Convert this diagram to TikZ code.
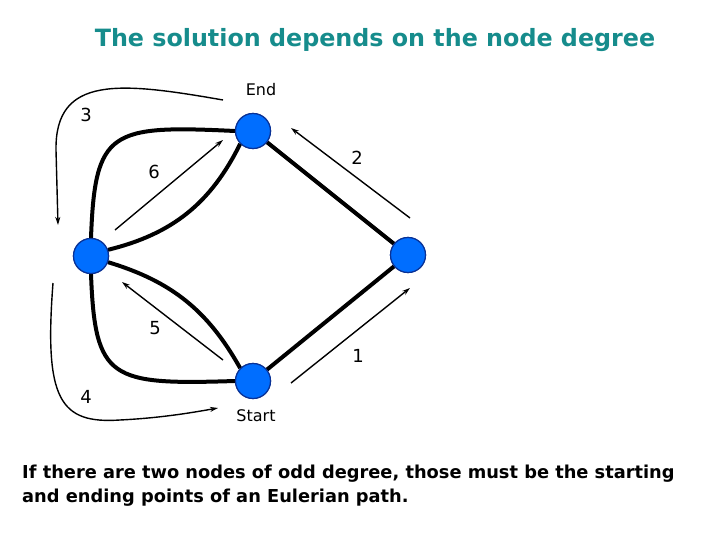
\documentclass[tikz,border=0pt]{standalone}
\usepackage{fontspec}
\setmainfont{DejaVu Sans}
\usetikzlibrary{arrows.meta}
\definecolor{titleteal}{RGB}{22,140,140}
\definecolor{nodeblue}{RGB}{0,110,255}
\definecolor{nodeborder}{RGB}{10,50,150}
\begin{document}
\begin{tikzpicture}[x=1pt,y=-1pt,
  vert/.style={circle,fill=nodeblue,draw=nodeborder,line width=1.2pt,minimum size=35pt,inner sep=0pt},
  edge/.style={line width=4pt,black},
  walk/.style={line width=1.4pt,black,-{Stealth[length=8pt,width=5pt]}},
  num/.style={font=\fontsize{18}{21}\selectfont},
  lab/.style={font=\fontsize{16}{19}\selectfont}]
\useasboundingbox (0,0) rectangle (720,540);
\node[font=\fontsize{23.8}{28}\selectfont\bfseries,text=titleteal] (title) at (375,40) {The solution depends on the node degree};
\node[vert] (E) at (253,131) {};
\node[vert] (L) at (91,256) {};
\node[vert] (R) at (408,255) {};
\node[vert] (S) at (253,381) {};
% edges
\draw[edge] (E) -- (R);
\draw[edge] (S) -- (R);
\draw[edge] (L.north) .. controls (95,130) and (110,125) .. (E.west);
\draw[edge] (L.20) to[bend right=25] (E.225);
\draw[edge] (L.-20) to[bend left=22] (S.135);
\draw[edge] (L.south) .. controls (95,380) and (110,385) .. (S.west);
% redraw nodes on top
\node[vert] at (E) {};
\node[vert] at (L) {};
\node[vert] at (R) {};
\node[vert] at (S) {};
% walk arrows
\coordinate (a3s) at (223,100); \coordinate (a3e) at (58,225);
\coordinate (a6s) at (115,230); \coordinate (a6e) at (223,140);
\coordinate (a2s) at (410,218); \coordinate (a2e) at (291,128);
\coordinate (a1s) at (291,383); \coordinate (a1e) at (410,288);
\coordinate (a5s) at (223,360); \coordinate (a5e) at (122,282);
\coordinate (a4s) at (53,283); \coordinate (a4e) at (218,408);
\draw[walk] (a3s) .. controls (120,82) and (55,75) .. (56,150) -- (a3e);
\draw[walk] (a6s) -- (a6e);
\draw[walk] (a2s) -- (a2e);
\draw[walk] (a1s) -- (a1e);
\draw[walk] (a5s) -- (a5e);
\draw[walk] (a4s) .. controls (44,400) and (60,424) .. (120,420) .. controls (160,418) and (190,413) .. (a4e);
% labels
\node[num] (n3) at (86,115) {3};
\node[num] (n6) at (154,172) {6};
\node[num] (n2) at (357,158) {2};
\node[num] (n1) at (358,356) {1};
\node[num] (n5) at (155,328) {5};
\node[num] (n4) at (86,397) {4};
\node[lab] (lend) at (261,90) {End};
\node[lab] (lstart) at (256,416) {Start};
\node[anchor=north west,align=left,inner sep=0pt,font=\fontsize{17.8}{24}\selectfont\bfseries] (txt) at (22,465)
 {If there are two nodes of odd degree, those must be the starting\\and ending points of an Eulerian path.};
\end{tikzpicture}
\end{document}
